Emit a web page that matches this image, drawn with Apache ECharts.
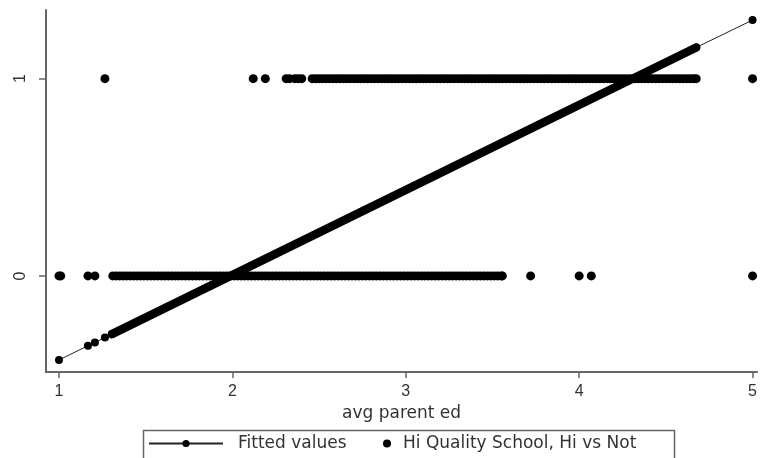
<!DOCTYPE html>
<html>
<head>
<meta charset="utf-8">
<script src="https://cdn.jsdelivr.net/npm/echarts@6/dist/echarts.min.js"></script>
<style>html,body{margin:0;padding:0;background:#fff}#c{width:760px;height:458px}</style>
</head>
<body>
<div id="c"></div>
<script>
// Observations with y = 0 (x = avg parent ed)
const xZero = [1.0, 1.01, 1.167, 1.207,
  1.31,1.33,1.35,1.37,1.39,1.41,1.43,1.45,1.47,1.49,
  1.51,1.53,1.55,1.57,1.59,1.61,1.63,1.65,1.67,1.69,
  1.71,1.73,1.75,1.77,1.79,1.81,1.83,1.85,1.87,1.89,
  1.91,1.93,1.95,1.97,1.99,2.01,2.03,2.05,2.07,2.09,
  2.11,2.13,2.15,2.17,2.19,2.21,2.23,2.25,2.27,2.29,
  2.31,2.33,2.35,2.37,2.39,2.41,2.43,2.45,2.47,2.49,
  2.51,2.53,2.55,2.57,2.59,2.61,2.63,2.65,2.67,2.69,
  2.71,2.73,2.75,2.77,2.79,2.81,2.83,2.85,2.87,2.89,
  2.91,2.93,2.95,2.97,2.99,3.01,3.03,3.05,3.07,3.09,
  3.11,3.13,3.15,3.17,3.19,3.21,3.23,3.25,3.27,3.29,
  3.31,3.33,3.35,3.37,3.39,3.41,3.43,3.45,3.47,3.49,
  3.51,3.53,3.55,3.557,
  3.72, 4.0, 4.07, 5.0];
// Observations with y = 1
const xOne = [1.265, 2.12, 2.19, 2.31, 2.33, 2.36, 2.38, 2.40,
  2.46,2.48,2.50,2.52,2.54,2.56,2.58,2.60,2.62,2.64,
  2.66,2.68,2.70,2.72,2.74,2.76,2.78,2.80,2.82,2.84,
  2.86,2.88,2.90,2.92,2.94,2.96,2.98,3.00,3.02,3.04,
  3.06,3.08,3.10,3.12,3.14,3.16,3.18,3.20,3.22,3.24,
  3.26,3.28,3.30,3.32,3.34,3.36,3.38,3.40,3.42,3.44,
  3.46,3.48,3.50,3.52,3.54,3.56,3.58,3.60,3.62,3.64,
  3.66,3.68,3.70,3.72,3.74,3.76,3.78,3.80,3.82,3.84,
  3.86,3.88,3.90,3.92,3.94,3.96,3.98,4.00,4.02,4.04,
  4.06,4.08,4.10,4.12,4.14,4.16,4.18,4.20,4.22,4.24,
  4.26,4.28,4.30,4.32,4.34,4.36,4.38,4.40,4.42,4.44,
  4.46,4.48,4.50,4.52,4.54,4.56,4.58,4.60,4.62,4.64,
  4.66,4.675, 5.0];
// Fitted values; dense run of fitted points spans fittedX[4]..fittedX[5]
const fittedX = [1.0, 1.167, 1.207, 1.265, 1.305, 4.675, 5.0];
const fittedY = [-0.426, -0.354, -0.337, -0.312, -0.295, 1.158, 1.297];
const xTicks = [1, 2, 3, 4, 5];
const yTicks = [0, 1];
const xTitle = 'avg parent ed';
const seriesNames = ['Fitted values', 'Hi Quality School, Hi vs Not'];

const scatterData = xZero.map(x => [x, 0]).concat(xOne.map(x => [x, 1]));
const fittedData = fittedX.map((x, i) => [x, fittedY[i]]);
const denseFitted = fittedData.slice(4, 6);

const FONT = 'Liberation Sans, Arial, sans-serif';
const WFONT = 'DejaVu Sans, sans-serif';
const chart = echarts.init(document.getElementById('c'), null, {renderer: 'canvas'});
chart.setOption({
  animation: false,
  backgroundColor: '#fff',
  grid: {left: 46, top: 10, width: 711.5, height: 362, containLabel: false},
  xAxis: {
    type: 'value', min: 0.925, max: 5.026,
    splitLine: {show: false},
    axisLine: {show: true, onZero: false, lineStyle: {color: '#666', width: 2}},
    axisTick: {show: true, length: 6, customValues: xTicks, lineStyle: {color: '#666', width: 1.5}},
    axisLabel: {customValues: xTicks, margin: 12, color: '#333', fontSize: 16, fontFamily: FONT},
    name: xTitle, nameLocation: 'middle', nameGap: 23,
    nameTextStyle: {color: '#333', fontSize: 17, fontFamily: WFONT}
  },
  yAxis: {
    type: 'value', min: -0.487, max: 1.348,
    splitLine: {show: false},
    axisLine: {show: true, onZero: false, lineStyle: {color: '#666', width: 2}},
    axisTick: {show: true, length: 7, customValues: yTicks, lineStyle: {color: '#666', width: 1.5}},
    axisLabel: {customValues: yTicks, rotate: 90, margin: 17, color: '#333', fontSize: 16, fontFamily: FONT}
  },
  legend: [
    {data: [seriesNames[0]], left: 148, top: 435, padding: 0, itemWidth: 74, itemHeight: 9,
     textStyle: {color: '#333', fontSize: 17, fontFamily: WFONT, padding: [0, 0, 0, 10]}},
    {data: [{name: seriesNames[1], icon: 'circle'}], left: 383, top: 435, padding: 0, itemWidth: 8, itemHeight: 8,
     textStyle: {color: '#333', fontSize: 17, fontFamily: WFONT, padding: [0, 0, 0, 7]}}
  ],
  graphic: [{type: 'rect', left: 141, top: 428, shape: {width: 531, height: 40},
    style: {fill: 'none', stroke: '#666', lineWidth: 1.5}, silent: true}],
  series: [
    {name: seriesNames[0], type: 'line', data: fittedData, symbol: 'circle', symbolSize: 8,
     showSymbol: true, clip: false, z: 3,
     lineStyle: {color: '#222', width: 1}, itemStyle: {color: '#000', opacity: 1}},
    {name: 'fitted-dense', type: 'line', data: denseFitted, symbol: 'none', clip: false, z: 3,
     lineStyle: {color: '#000', width: 8.5, cap: 'round'}},
    {name: seriesNames[1], type: 'scatter', data: scatterData, symbol: 'circle', symbolSize: 9,
     clip: false, z: 2, itemStyle: {color: '#000', opacity: 1}}
  ]
});
</script>
</body>
</html>
